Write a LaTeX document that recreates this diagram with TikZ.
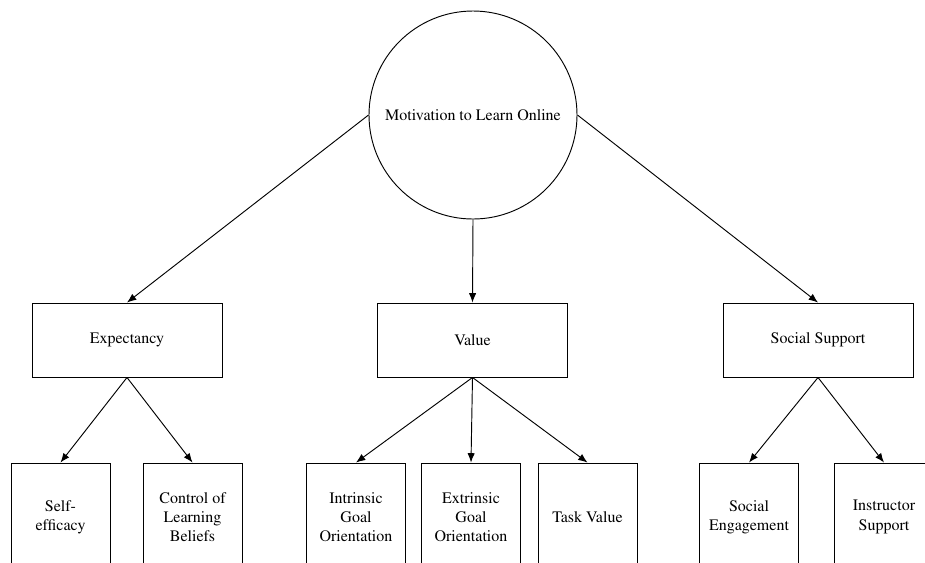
\documentclass[tikz,border=0pt]{standalone}
\usepackage[T1]{fontenc}
\usepackage{times}
\usepackage{tikz}
\usetikzlibrary{arrows.meta}

\begin{document}
\begin{tikzpicture}[x=0.75pt, y=-0.75pt, >={Latex[length=7pt,width=5.5pt]}, line width=0.7pt,
  every node/.style={font=\rmfamily\fontsize{12}{14.5}\selectfont, align=center},
  rootnode/.style={draw, circle, minimum size=156pt, inner sep=0pt},
  midbox/.style={draw, rectangle, minimum width=142.5pt, minimum height=55.5pt},
  leafbox/.style={draw, rectangle, minimum width=74.25pt, minimum height=81pt}]

\useasboundingbox (0,0) rectangle (925,562);
\clip (0,0) rectangle (925,562);

\node[rootnode] (mot) at (473,115) {Motivation to Learn Online};

\node[midbox] (exp) at (127,340) {Expectancy};
\node[midbox] (val) at (472.5,340) {Value};
\node[midbox] (soc) at (818,340) {Social Support};

\node[leafbox] (l1) at (60.5,517) {Self-\\efficacy};
\node[leafbox] (l2) at (192.5,517) {Control of\\Learning\\Beliefs};
\node[leafbox] (l3) at (356,517) {Intrinsic\\Goal\\Orientation};
\node[leafbox] (l4) at (471,517) {Extrinsic\\Goal\\Orientation};
\node[leafbox] (l5) at (587.5,517) {Task Value};
\node[leafbox] (l6) at (749,517) {Social\\Engagement};
\node[leafbox] (l7) at (884,517) {Instructor\\Support};

\draw[->] (mot.west) -- (exp.north);
\draw[->] (mot.south) -- (val.north);
\draw[->] (mot.east) -- (soc.north);
\draw[->] (exp.south) -- (l1.north);
\draw[->] (exp.south) -- (l2.north);
\draw[->] (val.south) -- (l3.north);
\draw[->] (val.south) -- (l4.north);
\draw[->] (val.south) -- (l5.north);
\draw[->] (soc.south) -- (l6.north);
\draw[->] (soc.south) -- (l7.north);

\end{tikzpicture}
\end{document}
